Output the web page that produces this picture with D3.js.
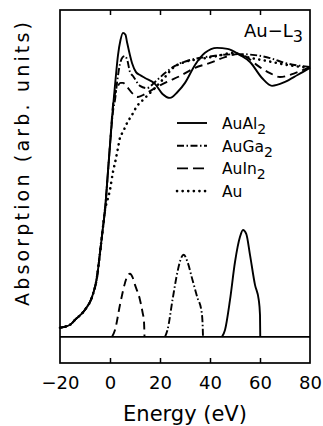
<!DOCTYPE html>
<html>
<head>
<meta charset="utf-8">
<script src="https://cdn.jsdelivr.net/npm/d3@7"></script>
<style>
  body { margin: 0; background: #fff; }
  text { font-family: "DejaVu Sans", sans-serif; fill: #000; }
</style>
</head>
<body>
<div id="content"></div>
<script>
// energy (eV) and absorption (arb. units)
var alE = [-20,-16,-14,-10,-7.2,-5.2,-4,-2.8,-2,-1,0,1.2,2.2,3.2,4.2,5.2,6.2,6.8,8.8,10.4,12,14,18,21,24,27,30,34,38,42.8,47,52,56,60.8,64.8,70,75,80];
var alV = [2.8,3.7,5.2,8.3,12.2,18.3,25.7,33.6,38.8,48.6,58.7,70.3,78.6,86.2,90.8,93.0,92.4,90.2,83.8,81,80.1,79.2,77.4,74.3,73.1,74.9,77.7,83.2,86.9,88.4,88.1,86.2,84.1,79.2,76.8,78,80.1,82.3];

var gaE = [-20,-16,-14,-10,-7.2,-5.2,-4,-2.8,-2,-1,0,1.2,2,3,4,5,6,7,8,9.2,12,14.8,18,22,26,32,38,44,52,58,64,70,80];
var gaV = [2.8,3.7,5.2,8.3,12.2,18.3,25.7,33.6,38.8,48.6,58.7,69,72.5,78.9,83.5,85.5,85.9,84.4,81,79.8,76.8,76.1,78,80.7,82.9,84.7,85.6,86.2,86.5,86.2,85.3,83.8,82.6];

var inE = [-20,-16,-14,-10,-7.2,-5.2,-4,-2.8,-2,-1,0,1.2,2.2,3.2,4.2,5.2,6.8,9.2,11.2,14,18,22.8,28,34,40,46,51.2,55.2,59.2,64,68,74,80];
var inV = [2.8,3.7,5.2,8.3,12.2,18.3,25.7,33.6,38.8,48.6,58.7,70.9,74.9,76.8,77.7,77.7,76.5,74.3,73.4,74.3,76.1,78,79.8,82.3,83.8,85.6,86.5,85.3,82.9,80.7,79.5,80.7,82.6];

var auE = [-20,-16,-14,-10,-7.2,-5.2,-4,-2.8,-2,-1,0,1.2,2,3.2,4,5.2,6.8,8.8,10.8,13.2,16,18.8,22,25.2,30,36,42.8,49.2,54.8,62.8,70.8,80];
var auV = [2.8,3.7,5.2,8.3,12.2,18.3,25.7,33.6,38.8,41.9,45,50.5,53.2,57.8,60.9,62.7,65.4,67.9,70.6,72.5,74.6,76.8,79.5,82.3,84.1,85,85.9,86.9,85.6,84.4,83.2,82.3];

// lower peaks
var pkInE = [0.8,2,4,6,7,8,9,10,12,13,13.6,13.8];
var pkInV = [0,2.1,9.8,16.5,18.7,19.3,18.3,15.9,11.3,7.6,4.6,0];
var pkGaE = [22,23,25,27,28.5,29.5,31,33,35,36.5,37,37.2];
var pkGaV = [0,2.1,11.3,19.9,24.2,25.1,22.9,17.4,11.9,8.3,4.6,0];
var pkAlE = [44.8,46,48,50,52,53.2,54.5,56,58,59.5,60,60.1];
var pkAlV = [0,2.1,11.3,22.9,30.6,32.7,31.5,25.1,15.9,11.3,6.7,0];

var xTicks = [-20, 0, 20, 40, 60, 80];
var names = ['AuAl', 'AuGa', 'AuIn', 'Au'];
var subs = ['2', '2', '2', ''];

var app = {};
app.width = 323;
app.height = 426;
var margin = { top: 10, right: 13, bottom: 63, left: 60 };

app.x = d3.scaleLinear().domain([-20, 80]).range([margin.left, app.width - margin.right]);
app.y = d3.scaleLinear().domain([-8, 100]).range([app.height - margin.bottom, margin.top]);

var dash = {
  solid: null,
  dashdot: '7,2.5,1.5,2.5',
  dashed: '8,5',
  dotted: '0.1,5.5'
};

app.svg = d3.select('#content').append('svg')
  .attr('width', app.width)
  .attr('height', app.height);

var line = d3.line()
  .x(d => app.x(d[0]))
  .y(d => app.y(d[1]))
  .curve(d3.curveMonotoneX);

function zip(a, b) { return a.map((v, i) => [v, b[i]]); }

function draw(e, v, style, w) {
  app.svg.append('path')
    .datum(zip(e, v))
    .attr('d', line)
    .attr('fill', 'none')
    .attr('stroke', '#000')
    .attr('stroke-width', w || 1.9)
    .attr('stroke-linecap', style === 'dotted' ? 'round' : 'butt')
    .attr('stroke-dasharray', dash[style]);
}

draw(auE, auV, 'dotted', 2.6);
draw(inE, inV, 'dashed');
draw(gaE, gaV, 'dashdot');
draw(alE, alV, 'solid');

draw(pkInE, pkInV, 'dashed');
draw(pkGaE, pkGaV, 'dashdot');
draw(pkAlE, pkAlV, 'solid');

// baseline
app.svg.append('line')
  .attr('x1', app.x(-20)).attr('x2', app.x(80))
  .attr('y1', app.y(0)).attr('y2', app.y(0))
  .attr('stroke', '#000').attr('stroke-width', 1.7);

// frame
app.svg.append('rect')
  .attr('x', app.x(-20)).attr('y', app.y(100))
  .attr('width', app.x(80) - app.x(-20))
  .attr('height', app.y(-8) - app.y(100))
  .attr('fill', 'none').attr('stroke', '#000').attr('stroke-width', 1.7);

// bottom axis with inward ticks
app.xAxis = d3.axisBottom(app.x)
  .tickValues(xTicks)
  .tickSize(-5)
  .tickPadding(13)
  .tickFormat(d => d3.format('d')(d).replace('-', '\u2212'));

app.xGuide = app.svg.append('g')
  .attr('transform', `translate(0, ${app.y(-8)})`)
  .call(app.xAxis);
app.xGuide.select('.domain').remove();
app.xGuide.selectAll('line').attr('stroke-width', 1.5)
  .filter(d => d === -20 || d === 80).remove();
app.xGuide.selectAll('text')
  .style('font-family', '"DejaVu Sans", sans-serif')
  .style('font-size', '18px');

app.topAxis = d3.axisTop(app.x)
  .tickValues(xTicks.slice(1, -1))
  .tickSize(-5)
  .tickFormat('');
app.topGuide = app.svg.append('g')
  .attr('transform', `translate(0, ${app.y(100)})`)
  .call(app.topAxis);
app.topGuide.select('.domain').remove();
app.topGuide.selectAll('line').attr('stroke-width', 1.5);

// axis titles
app.svg.append('text')
  .attr('x', 185).attr('y', 421)
  .attr('text-anchor', 'middle')
  .style('font-size', '21px')
  .text('Energy (eV)');

app.svg.append('text')
  .attr('transform', 'translate(29, 164) rotate(-90)')
  .attr('text-anchor', 'middle')
  .attr('textLength', 284)
  .style('font-size', '19px')
  .text('Absorption (arb. units)');

// panel label
var title = app.svg.append('text')
  .attr('x', 303).attr('y', 37)
  .attr('text-anchor', 'end')
  .style('font-size', '18px');
title.append('tspan').text('Au\u2212L');
title.append('tspan').attr('dy', 5).style('font-size', '16px').text('3');

// legend
var legendStyles = ['solid', 'dashdot', 'dashed', 'dotted'];
var lg = app.svg.append('g').attr('transform', 'translate(177, 123)');
names.forEach((n, i) => {
  var row = lg.append('g').attr('transform', `translate(0, ${i * 22.7})`);
  row.append('line')
    .attr('x1', 0).attr('x2', 30)
    .attr('y1', 0).attr('y2', 0)
    .attr('stroke', '#000')
    .attr('stroke-width', legendStyles[i] === 'dotted' ? 2.6 : 1.9)
    .attr('stroke-linecap', legendStyles[i] === 'dotted' ? 'round' : 'butt')
    .attr('stroke-dasharray', legendStyles[i] === 'dashed' ? '11,5' : dash[legendStyles[i]]);
  var t = row.append('text')
    .attr('x', 45).attr('y', 6)
    .style('font-size', '15.5px');
  t.append('tspan').text(n);
  if (subs[i]) t.append('tspan').attr('dy', 5).style('font-size', '14px').text(subs[i]);
});
</script>
</body>
</html>
